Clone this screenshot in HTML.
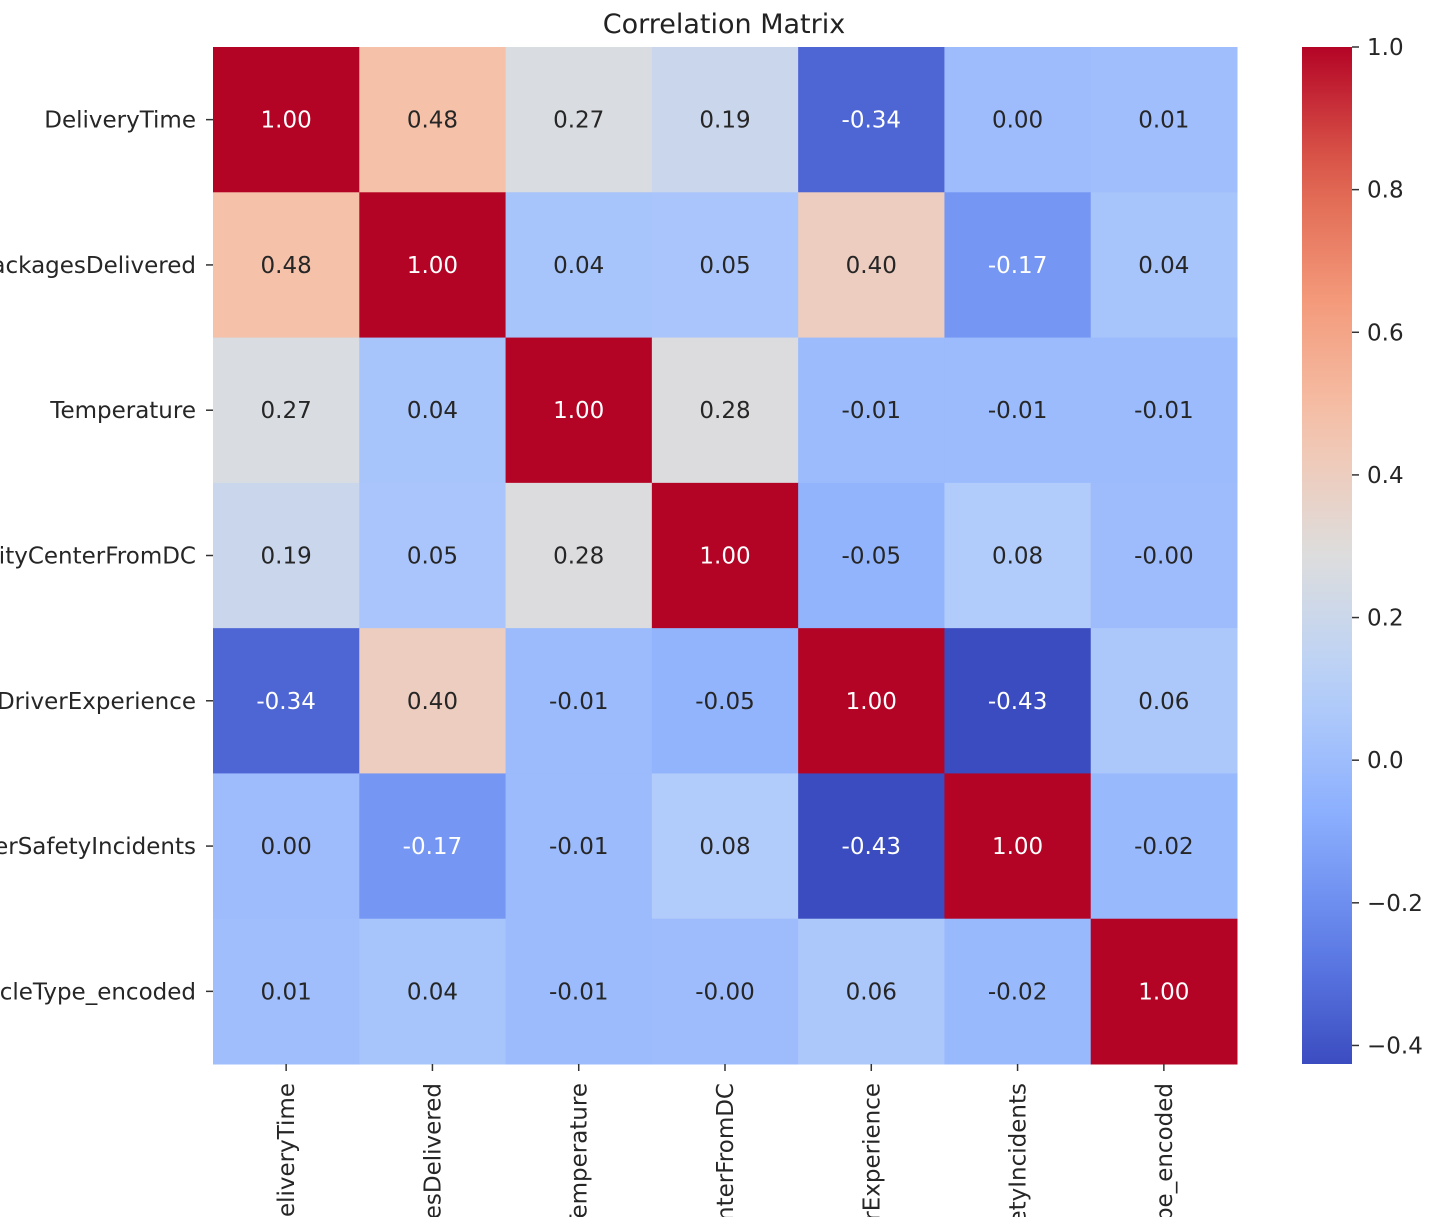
<!DOCTYPE html>
<html><head><meta charset="utf-8"><style>
html,body{margin:0;padding:0;background:#fff;width:1441px;height:1217px;overflow:hidden}
svg text{font-family:"DejaVu Sans","Liberation Sans",sans-serif}
</style></head><body>
<svg id="chart" width="1441" height="1217" xmlns="http://www.w3.org/2000/svg">
<defs><linearGradient id="cbgrad" x1="0" y1="1" x2="0" y2="0"></linearGradient></defs>
<text x="724" y="33" font-size="27" text-anchor="middle" fill="#222">Correlation Matrix</text>
<g id="cells"></g><g id="ylab"></g><g id="xlab"></g><g id="cbar"></g>
</svg>
<script>
const labels = ["DeliveryTime","PackagesDelivered","Temperature","DistanceToCityCenterFromDC","DriverExperience","DriverSafetyIncidents","VehicleType_encoded"];
const values = [
 [1.00,0.48,0.27,0.19,-0.34,0.00,0.01],
 [0.48,1.00,0.04,0.05,0.40,-0.17,0.04],
 [0.27,0.04,1.00,0.28,-0.01,-0.01,-0.01],
 [0.19,0.05,0.28,1.00,-0.05,0.08,-0.001],
 [-0.34,0.40,-0.01,-0.05,1.00,-0.43,0.06],
 [0.00,-0.17,-0.01,0.08,-0.43,1.00,-0.02],
 [0.01,0.04,-0.01,-0.001,0.06,-0.02,1.00]
];
const cbTicks = [1.0,0.8,0.6,0.4,0.2,0.0,-0.2,-0.4];
const cbTickLabels = ["1.0","0.8","0.6","0.4","0.2","0.0","\u22120.2","\u22120.4"];
const vmin=-0.426, vmax=1.0;
const NS="http://www.w3.org/2000/svg";
const X0=213,X1=1237,Y0=47,Y1=1064;
const n=labels.length, cw=(X1-X0)/n, ch=(Y1-Y0)/n;
const anchors=[[59,76,192],[98,130,234],[141,176,254],[184,208,249],[221,221,221],[245,196,173],[244,154,123],[222,96,77],[180,4,38]];
function cmap(t){t=Math.max(0,Math.min(1,t));const p=t*8,i=Math.min(7,Math.floor(p)),f=p-i;const a=anchors[i],b=anchors[i+1];return [0,1,2].map(k=>Math.round(a[k]+(b[k]-a[k])*f));}
function col(v){return cmap((v-vmin)/(vmax-vmin));}
function mk(tag,attrs,parent){const e=document.createElementNS(NS,tag);for(const k in attrs)e.setAttribute(k,attrs[k]);parent.appendChild(e);return e;}
const cells=document.getElementById('cells');
for(let r=0;r<n;r++)for(let c=0;c<n;c++){
 const v=values[r][c],rgb=col(v);
 const rect=mk('rect',{x:X0+c*cw,y:Y0+r*ch,width:cw+0.5,height:ch+0.5,fill:`rgb(${rgb})`},cells);
 
 
 const lum=(0.299*rgb[0]+0.587*rgb[1]+0.114*rgb[2])/255;
 const t=mk('text',{x:X0+(c+0.5)*cw,y:Y0+(r+0.5)*ch+8,'font-size':23,'text-anchor':'middle',fill:lum<0.64?'#fff':'#262626'},cells);
 t.textContent=v.toFixed(2);
 
 
}
const yl=document.getElementById('ylab'),xl=document.getElementById('xlab');
labels.forEach((l,i)=>{
 const cy=Y0+(i+0.5)*ch;
 mk('line',{x1:X0-7,x2:X0,y1:cy,y2:cy,stroke:'#333','stroke-width':1.5},yl);
 const t=mk('text',{x:X0-17,y:cy+8,'font-size':23,'text-anchor':'end',fill:'#262626'},yl);
 t.textContent=l;
 
 
 const cx=X0+(i+0.5)*cw;
 mk('line',{x1:cx,x2:cx,y1:Y1,y2:Y1+7,stroke:'#333','stroke-width':1.5},xl);
 const tx=mk('text',{x:0,y:0,'font-size':23,'text-anchor':'end',fill:'#262626',transform:`translate(${cx+8},${Y1+19}) rotate(-90)`},xl);
 tx.textContent=l;
 
 
});
const g=document.getElementById('cbgrad');
for(let k=0;k<=20;k++){mk('stop',{offset:(k/20),'stop-color':`rgb(${cmap(k/20)})`},g);}
const cb=document.getElementById('cbar');
const CX0=1302,CX1=1352;
const cr=mk('rect',{x:CX0,y:Y0,width:CX1-CX0,height:Y1-Y0,fill:'url(#cbgrad)'},cb);


function cy(v){return Y1-(v-vmin)/(vmax-vmin)*(Y1-Y0);}
cbTicks.forEach((v,i)=>{
 const y=cy(v);
 mk('line',{x1:CX1,x2:CX1+7,y1:y,y2:y,stroke:'#333','stroke-width':1.5},cb);
 const t=mk('text',{x:CX1+15,y:y+8,'font-size':23,fill:'#262626'},cb);
 t.textContent=cbTickLabels[i];
 
 
});
</script>
</body></html>
